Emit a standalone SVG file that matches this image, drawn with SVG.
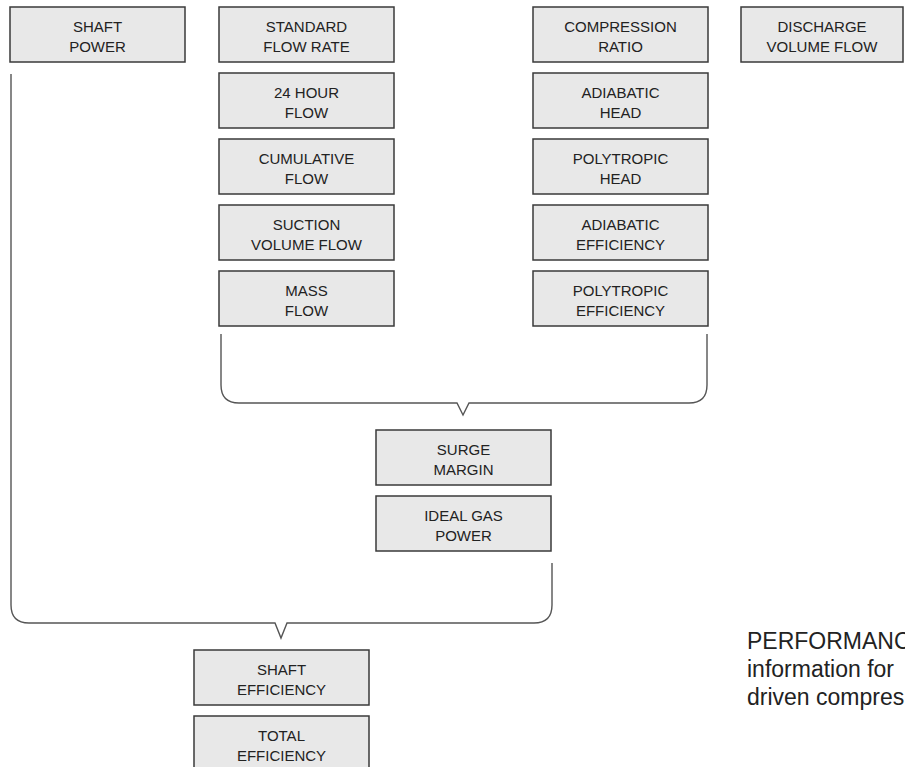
<svg xmlns="http://www.w3.org/2000/svg" width="905" height="767" viewBox="0 0 905 767">
<style>
.box{fill:#e8e8e8;stroke:#3a3a3a;stroke-width:1.5}
.lbl{font-family:"Liberation Sans",Arial,sans-serif;font-size:15px;fill:#222;text-anchor:middle}
.br{fill:none;stroke:#555;stroke-width:1.4}
.cap{font-family:"Liberation Sans",Arial,sans-serif;font-size:23px;fill:#222}
</style>
<rect width="905" height="767" fill="#fff"/>
<g id="connectors">
<path class="br" d="M221,334 V385 Q221,403 239,403 H457 L463,415 L469,403 H689 Q707,403 707,385 V334"/>
<path class="br" d="M11,74 V605 Q11,623 29,623 H275 L281,638 L287,623 H534 Q552,623 552,605 V563"/>
</g>
<g id="shaft-power"><rect class="box" x="10" y="7" width="175" height="55"/><text class="lbl" x="97.5" y="32">SHAFT</text><text class="lbl" x="97.5" y="52">POWER</text></g>
<g id="standard-flow-rate"><rect class="box" x="219" y="7" width="175" height="55"/><text class="lbl" x="306.5" y="32">STANDARD</text><text class="lbl" x="306.5" y="52">FLOW RATE</text></g>
<g id="24-hour-flow"><rect class="box" x="219" y="73" width="175" height="55"/><text class="lbl" x="306.5" y="98">24 HOUR</text><text class="lbl" x="306.5" y="118">FLOW</text></g>
<g id="cumulative-flow"><rect class="box" x="219" y="139" width="175" height="55"/><text class="lbl" x="306.5" y="164">CUMULATIVE</text><text class="lbl" x="306.5" y="184">FLOW</text></g>
<g id="suction-volume-flow"><rect class="box" x="219" y="205" width="175" height="55"/><text class="lbl" x="306.5" y="230">SUCTION</text><text class="lbl" x="306.5" y="250">VOLUME FLOW</text></g>
<g id="mass-flow"><rect class="box" x="219" y="271" width="175" height="55"/><text class="lbl" x="306.5" y="296">MASS</text><text class="lbl" x="306.5" y="316">FLOW</text></g>
<g id="compression-ratio"><rect class="box" x="533" y="7" width="175" height="55"/><text class="lbl" x="620.5" y="32">COMPRESSION</text><text class="lbl" x="620.5" y="52">RATIO</text></g>
<g id="adiabatic-head"><rect class="box" x="533" y="73" width="175" height="55"/><text class="lbl" x="620.5" y="98">ADIABATIC</text><text class="lbl" x="620.5" y="118">HEAD</text></g>
<g id="polytropic-head"><rect class="box" x="533" y="139" width="175" height="55"/><text class="lbl" x="620.5" y="164">POLYTROPIC</text><text class="lbl" x="620.5" y="184">HEAD</text></g>
<g id="adiabatic-efficiency"><rect class="box" x="533" y="205" width="175" height="55"/><text class="lbl" x="620.5" y="230">ADIABATIC</text><text class="lbl" x="620.5" y="250">EFFICIENCY</text></g>
<g id="polytropic-efficiency"><rect class="box" x="533" y="271" width="175" height="55"/><text class="lbl" x="620.5" y="296">POLYTROPIC</text><text class="lbl" x="620.5" y="316">EFFICIENCY</text></g>
<g id="discharge-volume-flow"><rect class="box" x="741" y="7" width="162" height="55"/><text class="lbl" x="822" y="32">DISCHARGE</text><text class="lbl" x="822" y="52">VOLUME FLOW</text></g>
<g id="surge-margin"><rect class="box" x="376" y="430" width="175" height="55"/><text class="lbl" x="463.5" y="455">SURGE</text><text class="lbl" x="463.5" y="475">MARGIN</text></g>
<g id="ideal-gas-power"><rect class="box" x="376" y="496" width="175" height="55"/><text class="lbl" x="463.5" y="521">IDEAL GAS</text><text class="lbl" x="463.5" y="541">POWER</text></g>
<g id="shaft-efficiency"><rect class="box" x="194" y="650" width="175" height="55"/><text class="lbl" x="281.5" y="675">SHAFT</text><text class="lbl" x="281.5" y="695">EFFICIENCY</text></g>
<g id="total-efficiency"><rect class="box" x="194" y="716" width="175" height="60"/><text class="lbl" x="281.5" y="741">TOTAL</text><text class="lbl" x="281.5" y="761">EFFICIENCY</text></g>
<g id="caption">
<text class="cap" x="747" y="649">PERFORMANC</text>
<text class="cap" x="747" y="677">information for</text>
<text class="cap" x="747" y="705">driven compres</text>
</g>
</svg>
